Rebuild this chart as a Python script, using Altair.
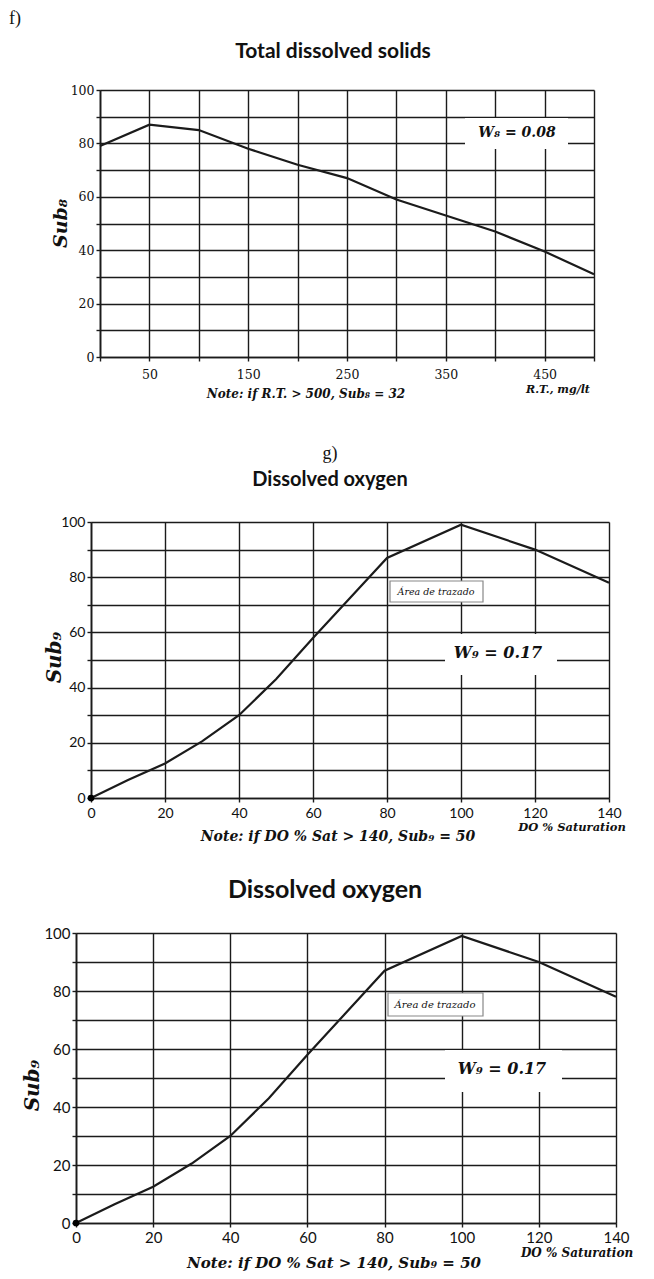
import altair as alt
import pandas as pd

# ---------------- data ----------------
tds_mg = [0, 50, 100, 150, 200, 250, 300, 350, 400, 450, 500]
tds_sub8 = [79, 87, 85, 78, 72, 67, 59, 53, 47, 39.5, 31]

do_sat = [0, 10, 20, 30, 40, 50, 60, 70, 80, 100, 120, 140]
do_sub9 = [0, 6.5, 12.5, 20.5, 30, 43, 58, 72.5, 87, 99, 90, 78]

tds_ticks = list(range(0, 501, 50))
do_ticks = list(range(0, 141, 20))
sub_ticks = list(range(0, 101, 10))

INK = "#1b1b1b"
SERIF = "DejaVu Serif"
SANS = "Lato"


def one_row():
    return pd.DataFrame({"k": [0]})


def txt(text, x, y, size, font=SERIF, style="italic", weight="bold", align="center",
        baseline="middle", color="#111"):
    return alt.Chart(pd.DataFrame({"t": [text]})).mark_text(
        font=font, fontSize=size, fontStyle=style, fontWeight=weight,
        align=align, baseline=baseline, color=color
    ).encode(text="t:N", x=alt.value(x), y=alt.value(y))


def box(x1, x2, y1, y2, stroke=None):
    kw = dict(fill="white")
    if stroke:
        kw.update(stroke=stroke, strokeWidth=1.2)
    return alt.Chart(one_row()).mark_rect(**kw).encode(
        x=alt.value(x1), x2=alt.value(x2), y=alt.value(y1), y2=alt.value(y2))


def extent(left, top, h, bottom):
    # invisible rule that fixes the panel's extent on the page
    return alt.Chart(one_row()).mark_rule(opacity=0, strokeOpacity=0).encode(
        x=alt.value(-left), y=alt.value(-top), y2=alt.value(h + bottom))


def lead():
    # tiny invisible spacer at the start of each row
    return alt.Chart(one_row()).mark_rule(opacity=0, strokeOpacity=0).encode(
        x=alt.value(0), y=alt.value(0), y2=alt.value(1)).properties(width=1, height=1)


def panel(xs, ys, xname, xticks, xlabelexpr, w, h, lab_font, lab_size, xpad,
          ytitle, ytx, yty, yts, extras, left, top, bottom):
    df = pd.DataFrame({xname: xs, "Sub": ys})
    xaxis_kw = dict(values=xticks, title=None, grid=True, gridColor=INK, gridWidth=1.4,
                    domainColor=INK, domainWidth=1.7, tickColor=INK, tickSize=4,
                    tickWidth=1.4, labelFont=lab_font, labelFontSize=lab_size,
                    labelColor="#111", labelPadding=xpad, labelFlush=False,
                    labelOverlap=False)
    if xlabelexpr:
        xaxis_kw["labelExpr"] = xlabelexpr
    yaxis = alt.Axis(values=sub_ticks, labelExpr="datum.value % 20 == 0 ? datum.label : ''",
                     title=ytitle, titleX=ytx, titleY=yty, titleAngle=270,
                     titleAlign="center", titleBaseline="middle", titleFont=SERIF,
                     titleFontStyle="italic", titleFontWeight="bold", titleFontSize=yts,
                     titleColor="#111", grid=True, gridColor=INK, gridWidth=1.4,
                     domainColor=INK, domainWidth=1.7, tickColor=INK, tickSize=4,
                     tickWidth=1.4, labelFont=lab_font, labelFontSize=lab_size,
                     labelColor="#111", labelPadding=2, labelFlush=False,
                     labelOverlap=False)
    base = alt.Chart(df)
    enc = dict(
        x=alt.X(f"{xname}:Q", scale=alt.Scale(domain=[xticks[0], xticks[-1]], nice=False),
                axis=alt.Axis(**xaxis_kw)),
        y=alt.Y("Sub:Q", scale=alt.Scale(domain=[0, 100], nice=False), axis=yaxis),
    )
    line = base.mark_line(color=INK, strokeWidth=2.2).encode(**enc)
    dot = base.transform_filter(alt.datum.Sub == 0).mark_point(
        filled=True, color="#000", size=45, opacity=1).encode(**enc)
    layers = [extent(left, top, h, bottom)] + extras[0] + [line, dot] + extras[1]
    body = alt.layer(*layers).properties(width=w, height=h)
    return alt.hconcat(lead(), body, spacing=0)


# ---------------- panel f: total dissolved solids ----------------
f_w, f_h = 494, 267
f_panel = panel(
    tds_mg, tds_sub8, "RT", tds_ticks, "datum.value % 100 == 50 ? datum.label : ''",
    f_w, f_h, SERIF, 12.5, 7, "Sub₈", -40, 133, 19,
    (
        [box(365, 468, 28, 59)],
        [
            txt("Total dissolved solids", 233, -32, 21, font=SANS, style="normal",
                baseline="alphabetic"),
            txt("W₈ = 0.08", 417, 43, 14),
            txt("Note: if R.T. > 500, Sub₈ = 32", 206, 304, 12),
            txt("R.T., mg/lt", 458, 300, 11),
            txt("f)", -85, -71, 18, font="Liberation Serif", style="normal", weight="normal"),
        ],
    ),
    left=99, top=90, bottom=68,
)

# ---------------- panel g: dissolved oxygen ----------------
g_w, g_h = 518, 276
g_panel = panel(
    do_sat, do_sub9, "DO", do_ticks, None,
    g_w, g_h, SANS, 14, 4, "Sub₉", -37, 135, 20,
    (
        [box(354, 466, 112, 153), box(299, 392, 59, 80, stroke="#888")],
        [
            txt("g)", 239, -68, 18, font="Liberation Serif", style="normal", weight="normal"),
            txt("Dissolved oxygen", 239, -36, 20, font=SANS, style="normal",
                baseline="alphabetic"),
            txt("Área de trazado", 345, 70, 9.5, weight="normal"),
            txt("W₉ = 0.17", 407, 131, 16),
            txt("Note: if DO % Sat > 140, Sub₉ = 50", 247, 315, 14),
            txt("DO % Saturation", 481, 306, 11.5),
        ],
    ),
    left=90, top=97, bottom=64,
)

# ---------------- panel 3: dissolved oxygen (enlarged) ----------------
p_w, p_h = 540, 290
p_panel = panel(
    do_sat, do_sub9, "DO", do_ticks, None,
    p_w, p_h, SANS, 15, 3, "Sub₉", -44, 152, 20,
    (
        [box(369, 486, 117, 159), box(312, 407, 60, 83, stroke="#888")],
        [
            txt("Dissolved oxygen", 249, -35, 25, font=SANS, style="normal",
                baseline="alphabetic"),
            txt("Área de trazado", 359, 72, 10, weight="normal"),
            txt("W₉ = 0.17", 426, 136, 16),
            txt("Note: if DO % Sat > 140, Sub₉ = 50", 258, 330, 15),
            txt("DO % Saturation", 501, 320, 12),
        ],
    ),
    left=75, top=71, bottom=56,
)

chart = alt.vconcat(
    f_panel, g_panel, p_panel, spacing=0, bounds="full"
).properties(padding=0, background="white").configure_view(
    strokeWidth=0
)

chart.save("out.html", embed_options={"renderer": "svg", "actions": False})
